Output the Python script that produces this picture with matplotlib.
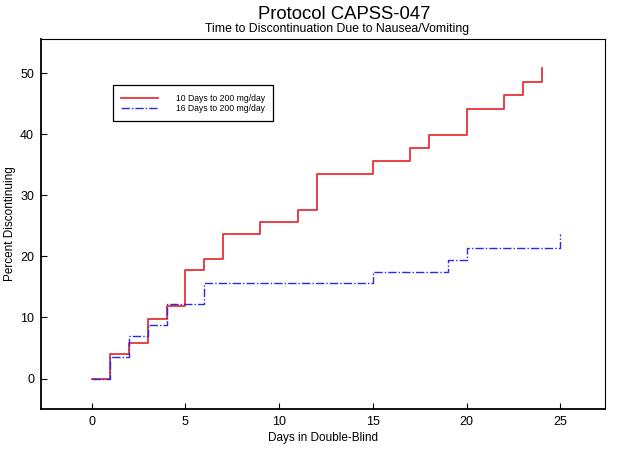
import matplotlib
matplotlib.use("Agg")
import matplotlib.pyplot as plt

plt.rcParams['font.family'] = ['Liberation Sans', 'DejaVu Sans']

# Kaplan-Meier style step data (percent discontinuing)
days_10 = [0, 1, 2, 3, 4, 5, 6, 7, 9, 11, 12, 15, 17, 18, 20, 22, 23, 24]
pct_10 = [0, 4.0, 5.9, 9.8, 11.8, 17.7, 19.5, 23.6, 25.6, 27.6, 33.5,
          35.7, 37.8, 39.9, 44.2, 46.4, 48.6, 50.8]

days_16 = [0, 1, 2, 3, 4, 6, 15, 19, 20, 25]
pct_16 = [0, 3.5, 6.9, 8.7, 12.2, 15.7, 17.5, 19.4, 21.4, 23.6]

label_10 = "10 Days to 200 mg/day"
label_16 = "16 Days to 200 mg/day"
xticks = [0, 5, 10, 15, 20, 25]
yticks = [0, 10, 20, 30, 40, 50]

fig = plt.figure(figsize=(6.21, 4.55), dpi=100)
ax = fig.add_axes([0.066, 0.101, 0.909, 0.813])

ax.plot(days_10, pct_10, drawstyle='steps-post', color='#e8303a', lw=1.3, label=label_10)
ax.plot(days_16, pct_16, drawstyle='steps-post', color='#2a2ae0', lw=1.0,
        ls=(0, (6, 1.5, 1, 1.5)), label=label_16)

ax.set_xlim(-2.7, 27.4)
ax.set_ylim(-5, 55.6)
ax.set_xticks(xticks)
ax.set_yticks(yticks)
ax.tick_params(direction='in', length=4, width=0.8, labelsize=9, pad=5)
ax.set_xlabel("Days in Double-Blind", fontsize=8.5, labelpad=3)
ax.set_ylabel("Percent Discontinuing", fontsize=8.5)
ax.yaxis.set_label_coords(-0.044, 0.5)
for side in ['left', 'bottom']:
    ax.spines[side].set_linewidth(1.3)
for side in ['top', 'right']:
    ax.spines[side].set_linewidth(0.8)

leg = ax.legend(loc='upper left', bbox_to_anchor=(0.128, 0.875), fontsize=6.2,
                fancybox=False, edgecolor='black', framealpha=1, handlelength=4.3,
                handletextpad=2.0, borderpad=0.95, labelspacing=0.15, borderaxespad=0)
leg.get_frame().set_linewidth(0.9)

fig.text(0.554, 0.958, "Protocol CAPSS-047", ha='center', va='baseline', fontsize=13.3)
fig.text(0.543, 0.930, "Time to Discontinuation Due to Nausea/Vomiting",
         ha='center', va='baseline', fontsize=8.8)

fig.savefig("out.png", dpi=100)
